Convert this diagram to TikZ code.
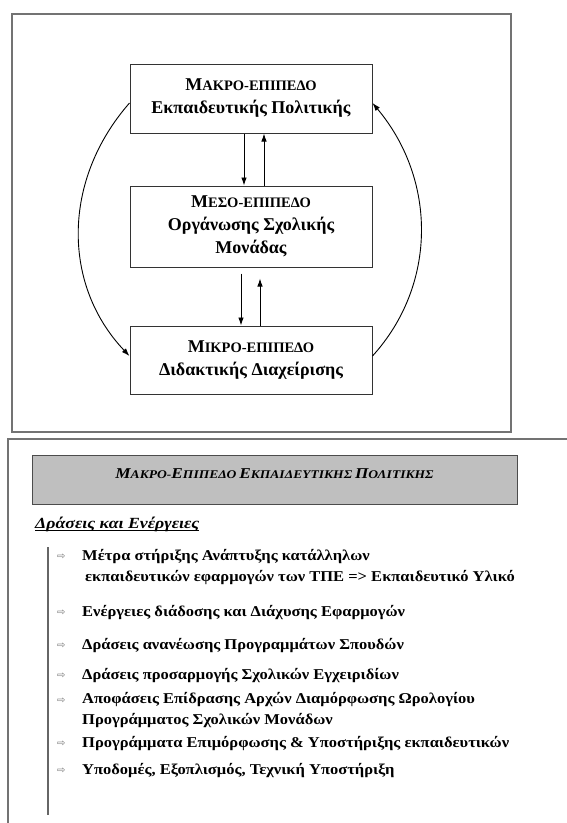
\documentclass[tikz,border=0pt]{standalone}
\usepackage{fontspec}
\setmainfont{Liberation Serif}
\newfontfamily\symfont{DejaVu Sans}
\newfontfamily\wideitem[FakeStretch=1.1]{Liberation Serif}
\newfontfamily\widetitle[FakeStretch=1.15]{Liberation Serif}
\usetikzlibrary{arrows.meta}
\newcommand\scw[2]{{\fontsize{18}{23}\selectfont #1}{\fontsize{14.5}{23}\selectfont #2}}
\newcommand\sct[2]{{\fontsize{15}{18}\selectfont #1}{\fontsize{11.8}{18}\selectfont #2}}
\begin{document}
\begin{tikzpicture}[x=1pt,y=-1pt,
  lvl/.style={draw=black!80, line width=1pt, minimum width=242pt, align=center,
    font=\bfseries\fontsize{18}{23}\selectfont, inner sep=0pt},
  arr/.style={-{Latex[length=8pt,width=5.5pt]}, line width=0.9pt},
  frame/.style={draw=black!55, line width=1.5pt},
  item/.style={anchor=base west, font=\wideitem\bfseries\fontsize{15}{20.5}\selectfont, align=left, inner sep=0pt},
  bul/.style={anchor=base west, font=\symfont\fontsize{10}{12}\selectfont, text=black!55, inner sep=0pt}]
\useasboundingbox (0,0) rectangle (567,823);
\fill[white] (0,0) rectangle (567,823);
% frames
\draw[frame] (12,14) rectangle (511,432);
\draw[frame] (567,439) -- (8,439) -- (8,823);
% level boxes
\node[lvl, minimum height=69pt] (macro) at (251,98.5) {\scw{Μ}{ΑΚΡΟ-ΕΠΙΠΕΔΟ}\\Εκπαιδευτικής Πολιτικής};
\node[lvl, minimum height=81pt] (meso) at (251,226.5) {\scw{Μ}{ΕΣΟ-ΕΠΙΠΕΔΟ}\\Οργάνωσης Σχολικής\\Μονάδας};
\node[lvl, minimum height=68pt] (micro) at (251,360) {\scw{Μ}{ΙΚΡΟ-ΕΠΙΠΕΔΟ}\\Διδακτικής Διαχείρισης};
% straight arrows
\draw[arr] ([xshift=-7pt]macro.south) -- ([xshift=-7pt]meso.north);
\draw[arr] ([xshift=13pt]meso.north) -- ([xshift=13pt]macro.south);
\draw[arr] ([shift={(-10pt,-6pt)}]meso.south) -- ([xshift=-10pt]micro.north);
\draw[arr] ([xshift=9pt]micro.north) -- ([shift={(9pt,-11pt)}]meso.south);
% curved arrows
\draw[arr] ([yshift=-4.5pt]macro.west) .. controls (62,180) and (62,285) .. ([yshift=4pt]micro.west);
\draw[arr] ([yshift=4pt]micro.east) .. controls (437,285) and (437,180) .. ([yshift=-4.5pt]macro.east);
% lower section
\node[draw=black!70, line width=1pt, fill=black!25, minimum width=485pt, minimum height=49pt, inner sep=0pt] (title) at (274.5,479.5) {};
\node[inner sep=0pt, font=\widetitle\bfseries\itshape] (titletext) at ([yshift=5.5pt]title.center)
  {\sct{Μ}{ΑΚΡΟ-}\sct{Ε}{ΠΙΠΕΔΟ} \sct{Ε}{ΚΠΑΙΔΕΥΤΙΚΗΣ} \sct{Π}{ΟΛΙΤΙΚΗΣ}};
\node[anchor=base west, inner sep=0pt, font=\widetitle\bfseries\itshape\fontsize{15.5}{18}\selectfont] (head) at (35,528) {Δράσεις και Ενέργειες};
\draw[line width=1pt] ([yshift=-2.5pt]head.base west) -- ([yshift=-2.5pt]head.base east);
\coordinate (vtop) at (48,547);
\coordinate (vbot) at (48,815);
\draw[draw=black!60, line width=1.2pt] (vtop) -- (vbot);
\foreach \y/\n in {559/b1,615/b2,648/b3,678/b4,703/b5,746/b6,773/b7}
  \node[bul] (\n) at (57,\y) {⇨};
\node[item] (i1) at (82,581) {Μέτρα στήριξης Ανάπτυξης κατάλληλων\\\hspace{3pt}εκπαιδευτικών εφαρμογών των ΤΠΕ => Εκπαιδευτικό Υλικό};
\node[item] (i2) at (82,616) {Ενέργειες διάδοσης και Διάχυσης Εφαρμογών};
\node[item] (i3) at (82,649) {Δράσεις ανανέωσης Προγραμμάτων Σπουδών};
\node[item] (i4) at (82,679) {Δράσεις προσαρμογής Σχολικών Εγχειριδίων};
\node[item] (i5) at (82,724) {Αποφάσεις Επίδρασης Αρχών Διαμόρφωσης Ωρολογίου\\Προγράμματος Σχολικών Μονάδων};
\node[item] (i6) at (82,747) {Προγράμματα Επιμόρφωσης \& Υποστήριξης εκπαιδευτικών};
\node[item] (i7) at (82,774) {Υποδομές, Εξοπλισμός, Τεχνική Υποστήριξη};
\end{tikzpicture}
\end{document}
